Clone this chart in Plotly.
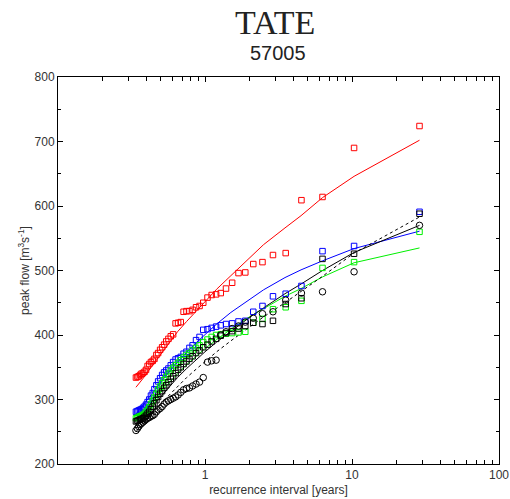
import plotly.graph_objects as go

# recurrence intervals [years] of ranked peaks
T = [28.79, 10.33, 6.30, 4.53, 3.54, 2.90, 2.46, 2.13, 1.88, 1.69,
     1.53, 1.39, 1.28, 1.19, 1.11, 1.04, 0.973, 0.918, 0.869, 0.824,
     0.784, 0.748, 0.715, 0.684, 0.656, 0.631, 0.607, 0.585, 0.564, 0.545,
     0.527, 0.511, 0.495, 0.480, 0.467, 0.453, 0.441, 0.429, 0.418, 0.407,
     0.397, 0.388, 0.379, 0.370, 0.362, 0.354, 0.347, 0.339]

red_pts = [724, 690, 614, 609, 527, 524, 513, 510, 497, 496,
           481, 472, 465, 463, 462, 458, 450, 445, 443, 439,
           437, 437, 436, 420, 419, 418, 401, 398, 394, 390,
           385, 381, 377, 372, 369, 363, 360, 358, 355, 352,
           346, 343, 341, 340, 338, 336, 335, 334]
blue_pts = [591, 538, 530, 476, 464, 460, 445, 436, 422, 421,
            418, 417, 415, 413, 411, 409, 408, 397, 392, 384,
            380, 374, 371, 366, 364, 362, 358, 353, 348, 345,
            342, 338, 333, 328, 322, 316, 310, 306, 300, 296,
            292, 289, 287, 285, 284, 283, 282, 281]
green_pts = [560, 513, 504, 453, 443, 440, 425, 419, 405, 404,
             403, 402, 401, 400, 397, 393, 389, 384, 380, 376,
             372, 369, 365, 361, 357, 353, 349, 345, 340, 335,
             330, 325, 320, 315, 309, 303, 298, 293, 288, 284,
             281, 278, 276, 275, 274, 273, 272, 271]
black_sq_pts = [588, 526, 518, 457, 448, 422, 417, 419, 414, 410,
                406, 403, 399, 394, 390, 385, 381, 376, 372, 367,
                363, 359, 355, 350, 346, 341, 336, 332, 327, 322,
                318, 313, 309, 304, 299, 294, 289, 285, 281, 278,
                275, 273, 271, 270, 269, 268, 267, 266]
black_obs_pts = [570, 498, 467, 465, 454, 436, 433, 426, 420, 414,
                 410, 405, 400, 361, 360, 358, 334, 327, 324, 321,
                 318, 317, 315, 311, 307, 304, 302, 300, 298, 296,
                 293, 289, 286, 284, 281, 277, 275, 274, 272, 271,
                 269, 267, 265, 263, 261, 258, 255, 252]

# fitted curves
T_fit = [0.339, 0.38, 0.43, 0.49, 0.56, 0.65, 0.75, 0.87, 1.0, 1.2,
         1.5, 2.0, 2.5, 3.5, 4.5, 6.3, 10.33, 28.79]
red_fit = [319, 333, 350, 367, 385, 405, 421, 437, 452, 471,
           492, 519, 540, 566, 585, 613, 646, 702]
blue_fit = [277, 291, 307, 324, 341, 358, 373, 388, 401, 417,
            435, 455, 470, 489, 501, 515, 534, 561]
green_fit = [268, 280, 294, 309, 324, 340, 354, 367, 379, 393,
             409, 428, 441, 460, 472, 490, 512, 535]
black_fit = [260, 273, 287, 303, 318, 334, 348, 362, 374, 389,
             406, 427, 442, 464, 479, 500, 528, 570]
dotted_fit = [250, 262, 275, 290, 305, 320, 334, 347, 359, 374,
              391, 412, 428, 450, 467, 491, 527, 583]

fig = go.Figure()

def line(y, color, dash="solid"):
    fig.add_trace(go.Scatter(x=T_fit, y=y, mode="lines",
                             line=dict(color=color, width=1, dash=dash),
                             showlegend=False, hoverinfo="skip"))

def pts(y, color, symbol="square-open", size=5.5):
    fig.add_trace(go.Scatter(x=T, y=y, mode="markers",
                             marker=dict(symbol=symbol, size=size, color=color,
                                         line=dict(width=1, color=color)),
                             showlegend=False))

GREEN = "#00f000"
line(red_fit, "#ff0000")
line(blue_fit, "#0000ff")
line(green_fit, GREEN)
line(black_fit, "#000000")
line(dotted_fit, "#000000", "dot")

pts(red_pts, "#ff0000")
pts(blue_pts, "#0000ff")
pts(green_pts, GREEN)
pts(black_sq_pts, "#000000")
pts(black_obs_pts, "#000000", "circle-open", 6.5)

minor_x = [0.2, 0.3, 0.4, 0.5, 0.6, 0.7, 0.8, 0.9,
           2, 3, 4, 5, 6, 7, 8, 9,
           20, 30, 40, 50, 60, 70, 80, 90]

fig.update_layout(
    width=510, height=499,
    margin=dict(l=58, r=11, t=77, b=35),
    paper_bgcolor="white", plot_bgcolor="white",
    font=dict(family="Liberation Sans, Arial, sans-serif", size=12, color="#333"),
    xaxis=dict(type="log", range=[-1, 2], showgrid=False, zeroline=False,
               automargin=False,
               showline=True, linecolor="black", linewidth=1, mirror="allticks",
               ticks="inside", ticklen=5, tickcolor="black",
               tickvals=[1, 10, 100], ticktext=["1", "10", "100"],
               minor=dict(tickvals=minor_x, ticks="inside", ticklen=4, tickcolor="black"),
               title=dict(text="recurrence interval [years]", standoff=4,
                          font=dict(size=12, color="#333"))),
    yaxis=dict(range=[200, 800], showgrid=False, zeroline=False,
               automargin=False,
               showline=True, linecolor="black", linewidth=1, mirror="allticks",
               ticks="inside", ticklen=5, tickcolor="black",
               tickvals=[200, 300, 400, 500, 600, 700, 800],
               minor=dict(dtick=50, ticks="inside", ticklen=3, tickcolor="black"),
               title=dict(text="peak flow [m<sup>3</sup>s<sup>-1</sup>]", standoff=2,
                          font=dict(size=12, color="#333"))),
)
fig.add_annotation(text="TATE", xref="paper", yref="paper", x=0.5, y=1,
                   xshift=-4, yshift=55, yanchor="middle", xanchor="center", showarrow=False,
                   font=dict(family="Liberation Serif, serif", size=34, color="#222"))
fig.add_annotation(text="57005", xref="paper", yref="paper", x=0.5, y=1,
                   xshift=-1, yshift=24, yanchor="middle", xanchor="center", showarrow=False,
                   font=dict(family="Liberation Sans, Arial, sans-serif", size=20, color="#222"))

fig.write_html("out.html", config={"displayModeBar": False},
               post_script="document.body.style.margin='0';document.body.style.padding='0';")
